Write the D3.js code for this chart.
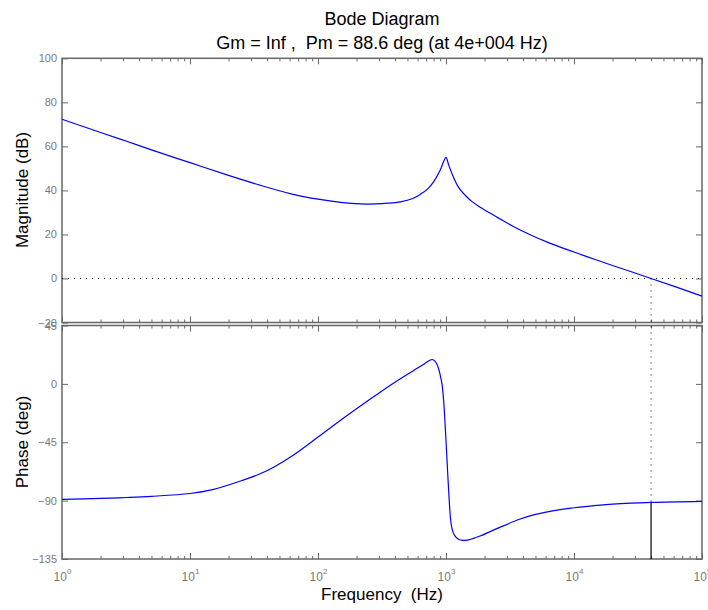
<!DOCTYPE html>
<html>
<head>
<meta charset="utf-8">
<script src="https://cdn.jsdelivr.net/npm/d3@7"></script>
<style>
  body { margin: 0; background: #fff; }
  svg { display: block; font-family: "Liberation Sans", Arial, sans-serif; }
</style>
</head>
<body>
<svg id="chart" width="708" height="610"></svg>
<script>
// magnitude curve (Hz, dB)
const magFreq = [1, 2, 3.2, 5, 10, 20, 35, 64, 100, 150, 240, 350, 440, 550, 630, 720, 800, 900, 960, 1000,
                 1050, 1140, 1250, 1450, 1600, 1800, 2100, 2630, 3360, 4500, 6120, 8000, 10000, 15000, 20000, 30000, 40000, 60000, 100000];
const magDb = [72.3, 66.3, 62.3, 58.4, 52.6, 46.8, 42.4, 38.2, 36.0, 34.6, 33.8, 34.2, 34.8, 36.3, 38.2, 40.7, 43.9, 49.2, 53.2, 55.0,
               51.5, 46.2, 41.5, 37.1, 34.9, 32.8, 30.4, 27.1, 23.6, 20.0, 16.6, 14.0, 12.0, 8.4, 5.9, 2.5, 0, -3.5, -8.0];

// phase curve (Hz, deg)
const phaseFreq = [1, 2, 3.2, 5, 10, 15, 26, 35, 45, 64, 100, 150, 213, 300, 388, 500, 600, 680, 740, 780, 820, 860, 900, 930, 960, 985,
                   1010, 1035, 1060, 1085, 1120, 1170, 1250, 1360, 1500, 1845, 2600, 3800, 5000, 7800, 10000, 14300, 20000, 40000, 100000];
const phaseDeg = [-89.0, -88.3, -87.6, -86.7, -84.5, -81.5, -74.2, -69.5, -64.2, -55, -41, -28, -17.2, -7, 0.4, 7.4, 12.2, 15.6, 18.0, 18.8, 17.5, 14, 7, 0, -14, -32,
                  -52, -72, -90, -104, -112.5, -117, -119.8, -120.7, -120.2, -117.3, -110.8, -104.2, -100.6, -96.9, -95.5, -93.8, -92.7, -91.4, -90.6];

const magTicks = [-20, 0, 20, 40, 60, 80, 100];
const phaseTicks = [-135, -90, -45, 0, 45];
const decades = [0, 1, 2, 3, 4, 5];

const titleText = "Bode Diagram";
const marginText = "Gm = Inf ,  Pm = 88.6 deg (at 4e+004 Hz)";
const pmFreq = 40000;
const pmPhase = -180 + 88.6;

const svg = d3.select("#chart");
const axisGray = "#666";
const labelGray = "#7a7a7a";

const x = d3.scaleLog().domain([1, 1e5]).range([62, 702]);
const yMag = d3.scaleLinear().domain([-20, 100]).range([322.5, 58.3]);
const yPh = d3.scaleLinear().domain([-135, 45]).range([559, 325.5]);

let majors = decades.map(d => Math.pow(10, d));
let minors = [];
for (let d = 0; d < 5; d++) {
    for (let k = 2; k <= 9; k++) minors.push(k * Math.pow(10, d));
}

function panel(y, ticks, withLabels) {
    let [y0, y1] = y.range();   // bottom, top
    let g = svg.append("g").attr("color", axisGray);

    // left: labels + inward ticks
    let left = g.append("g").attr("transform", "translate(62,0)")
        .call(d3.axisLeft(y).tickValues(ticks).tickSize(-6).tickPadding(5).tickFormat(d3.format("d")));
    // right
    g.append("g").attr("transform", "translate(702,0)")
        .call(d3.axisRight(y).tickValues(ticks).tickSize(-6).tickFormat(""));
    // bottom & top, major and minor
    let bot = g.append("g").attr("transform", `translate(0,${y0})`)
        .call(d3.axisBottom(x).tickValues(majors).tickSize(-6).tickFormat(""));
    g.append("g").attr("transform", `translate(0,${y0})`)
        .call(d3.axisBottom(x).tickValues(minors).tickSize(-3).tickFormat(""));
    g.append("g").attr("transform", `translate(0,${y1})`)
        .call(d3.axisTop(x).tickValues(majors).tickSize(-6).tickFormat(""));
    g.append("g").attr("transform", `translate(0,${y1})`)
        .call(d3.axisTop(x).tickValues(minors).tickSize(-3).tickFormat(""));

    g.selectAll(".domain").remove();
    g.selectAll(".tick line").attr("stroke-width", 1);
    left.selectAll("text").attr("fill", labelGray).style("font-size", "11px")
        .attr("font-family", null);

    if (withLabels) {
        bot.selectAll(".tick text").each(function (d) {
            let t = d3.select(this);
            t.text("").attr("fill", labelGray).attr("font-family", null)
                .attr("y", 22).attr("dy", null).style("font-size", "12px");
            t.append("tspan").text("10");
            t.append("tspan").text(Math.round(Math.log10(d)))
                .attr("dy", -7).style("font-size", "8px");
        });
    }

    g.append("rect")
        .attr("x", 62).attr("y", y1)
        .attr("width", 640).attr("height", y0 - y1)
        .attr("fill", "none").attr("stroke", axisGray).attr("stroke-width", 1.5);
    return g;
}

panel(yMag, magTicks, false);
panel(yPh, phaseTicks, true);

// 0 dB reference line
svg.append("line")
    .attr("x1", x(1)).attr("x2", x(1e5))
    .attr("y1", yMag(0)).attr("y2", yMag(0))
    .attr("stroke", "#000").attr("stroke-width", 1).attr("stroke-dasharray", "1,5");

// crossover marker: dotted from 0 dB to the phase curve, solid below
svg.append("line")
    .attr("x1", x(pmFreq)).attr("x2", x(pmFreq))
    .attr("y1", yMag(0)).attr("y2", yPh(pmPhase))
    .attr("stroke", "#000").attr("stroke-width", 1).attr("stroke-dasharray", "1,5");
svg.append("line")
    .attr("x1", x(pmFreq)).attr("x2", x(pmFreq))
    .attr("y1", yPh(pmPhase)).attr("y2", yPh(-135))
    .attr("stroke", "#000").attr("stroke-width", 1.2);

let magLine = d3.line()
    .x(d => x(d[0]))
    .y(d => yMag(d[1]))
    .curve(d3.curveCatmullRom.alpha(0.5));
let phLine = d3.line()
    .x(d => x(d[0]))
    .y(d => yPh(d[1]))
    .curve(d3.curveCatmullRom.alpha(0.5));

svg.append("path")
    .attr("d", magLine(d3.zip(magFreq, magDb)))
    .attr("fill", "none").attr("stroke", "#0000ff").attr("stroke-width", 1.2);
svg.append("path")
    .attr("d", phLine(d3.zip(phaseFreq, phaseDeg)))
    .attr("fill", "none").attr("stroke", "#0000ff").attr("stroke-width", 1.2);

// titles and axis labels
svg.append("text").attr("x", 382).attr("y", 25).attr("text-anchor", "middle")
    .style("font-size", "18px").text(titleText);
svg.append("text").attr("x", 382).attr("y", 49).attr("text-anchor", "middle")
    .style("font-size", "18px").style("white-space", "pre").text(marginText);
svg.append("text").attr("x", 382).attr("y", 600).attr("text-anchor", "middle")
    .style("font-size", "17px").style("white-space", "pre").text("Frequency  (Hz)");
svg.append("text").attr("transform", "translate(28,190) rotate(-90)").attr("text-anchor", "middle")
    .style("font-size", "17px").text("Magnitude (dB)");
svg.append("text").attr("transform", "translate(28,442) rotate(-90)").attr("text-anchor", "middle")
    .style("font-size", "17px").text("Phase (deg)");
</script>
</body>
</html>
